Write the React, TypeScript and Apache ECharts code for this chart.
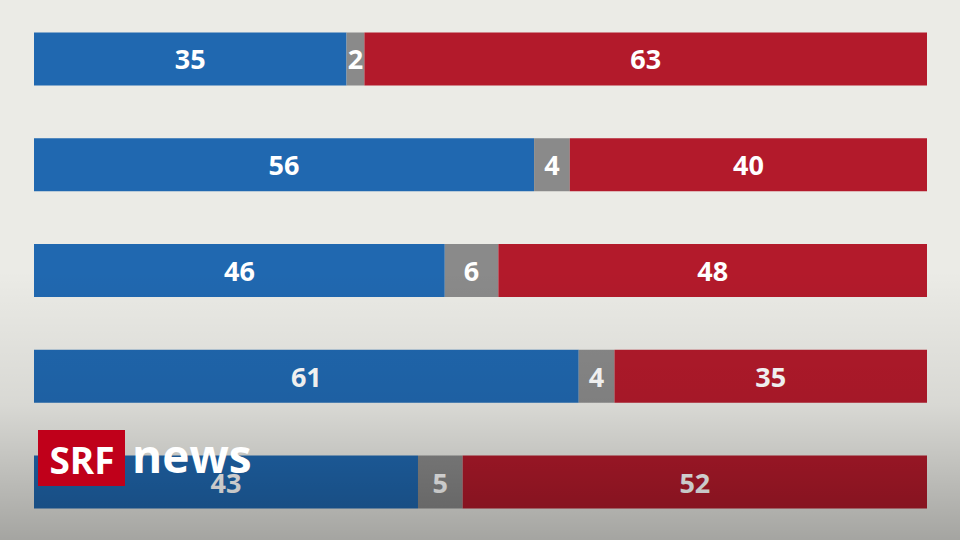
import React, { useEffect, useRef } from "react";
import * as echarts from "echarts";

const categories = ["A", "B", "C", "D", "E"];
const blueValues = [35, 56, 46, 61, 43];
const grayValues = [2, 4, 6, 4, 5];
const redValues = [63, 40, 48, 35, 52];

export default function App() {
  const ref = useRef<HTMLDivElement>(null);
  useEffect(() => {
    const chart = echarts.init(ref.current!, null, { renderer: "svg" });
    const label = {
      show: true,
      position: "inside",
      color: "#ffffff",
      fontWeight: "bold",
      fontSize: 27,
      fontFamily: "Open Sans",
    };
    const mk = (name: string, data: number[], color: string) => ({
      name,
      type: "bar",
      stack: "total",
      data,
      barWidth: 53,
      itemStyle: { color },
      label,
      emphasis: { disabled: true },
    });
    chart.setOption({
      animation: false,
      backgroundColor: "#ebebe6",
      grid: { left: 34, right: 33, top: 6, bottom: 5 },
      xAxis: { type: "value", min: 0, max: 100, show: false },
      yAxis: { type: "category", data: categories, inverse: true, show: false },
      series: [
        mk("blue", blueValues, "#2068b0"),
        mk("gray", grayValues, "#8a8a8a"),
        mk("red", redValues, "#b31a2b"),
      ],
      graphic: [
        {
          type: "rect",
          left: 0,
          top: 0,
          shape: { width: 960, height: 540 },
          z: 100,
          silent: true,
          style: {
            fill: new echarts.graphic.LinearGradient(0, 0, 0, 1, [
              { offset: 0, color: "rgba(0,0,0,0)" },
              { offset: 0.5, color: "rgba(0,0,0,0)" },
              { offset: 0.75, color: "rgba(0,0,0,0.08)" },
              { offset: 1, color: "rgba(0,0,0,0.3)" },
            ]),
          },
        },
        {
          type: "rect",
          x: 38,
          y: 430,
          shape: { width: 87, height: 56 },
          z: 110,
          style: { fill: "#c0001a" },
        },
        {
          type: "text",
          x: 82,
          y: 459,
          z: 111,
          style: {
            text: "SRF",
            fill: "#ffffff",
            font: "bold 37px 'Open Sans'",
            align: "center",
            verticalAlign: "middle",
          },
        },
        {
          type: "text",
          x: 132,
          y: 455,
          z: 111,
          style: {
            text: "news",
            fill: "#ffffff",
            font: "bold 46px 'Open Sans'",
            align: "left",
            verticalAlign: "middle",
          },
        },
      ],
    });
    return () => chart.dispose();
  }, []);
  return <div ref={ref} style={{ width: 960, height: 540, position: "absolute", left: 0, top: 0 }} />;
}
